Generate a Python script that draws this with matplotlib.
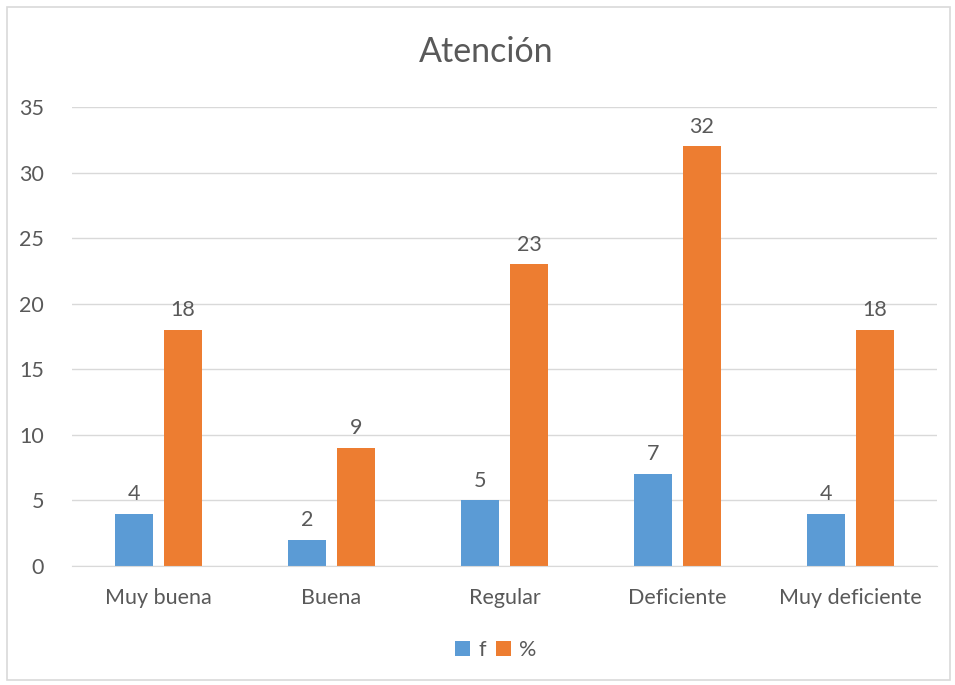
import matplotlib.pyplot as plt
import numpy as np
from matplotlib.patches import Rectangle

categories = ["Muy buena", "Buena", "Regular", "Deficiente", "Muy deficiente"]
f_values = [4, 2, 5, 7, 4]
pct_values = [18, 9, 23, 32, 18]
y_ticks = [0, 5, 10, 15, 20, 25, 30, 35]

plt.rcParams['font.family'] = ['Lato', 'DejaVu Sans']
text_color = "#595959"
blue = "#5B9BD5"
orange = "#ED7D31"

fig = plt.figure(figsize=(9.55, 6.85), dpi=100)
# thin grey frame around the whole chart
fig.patches.append(Rectangle((7 / 955, 5 / 685), 943 / 955, 673 / 685,
                             transform=fig.transFigure, fill=False,
                             edgecolor="#D9D9D9", linewidth=1.2))
ax = fig.add_axes([0.0754, 0.1737, 0.9056, 0.6701])

x = np.arange(len(categories))
w = 0.22
off = 0.142
b1 = ax.bar(x - off, f_values, w, color=blue, label="f", zorder=3)
b2 = ax.bar(x + off, pct_values, w, color=orange, label="%", zorder=3)

for bars in (b1, b2):
    for rect in bars:
        ax.annotate(f"{int(rect.get_height())}",
                    (rect.get_x() + rect.get_width() / 2, rect.get_height()),
                    xytext=(0, 7), textcoords="offset points",
                    ha="center", va="bottom", fontsize=15.5, color=text_color)

ax.set_xlim(-0.5, len(categories) - 0.5)
ax.set_ylim(0, 35)
ax.set_yticks(y_ticks)
ax.set_xticks(x)
ax.set_xticklabels(categories)
ax.tick_params(axis="both", length=0, labelsize=15.5, labelcolor=text_color)
ax.tick_params(axis="y", pad=20)
ax.tick_params(axis="x", pad=16)
ax.grid(axis="y", color="#D9D9D9", linewidth=1, zorder=0)
for s in ["top", "right", "left"]:
    ax.spines[s].set_visible(False)
ax.spines["bottom"].set_color("#D9D9D9")
ax.spines["bottom"].set_zorder(4)

fig.text(0.509, 0.924, "Atención", ha="center", va="center",
         fontsize=24.5, color=text_color)

fig.legend(loc="center", bbox_to_anchor=(0.519, 0.051), ncol=2, frameon=False,
           fontsize=15.5, labelcolor=text_color, handlelength=0.7,
           handleheight=0.7, handletextpad=0.4, columnspacing=0.45)

fig.savefig("out.png", dpi=100)
